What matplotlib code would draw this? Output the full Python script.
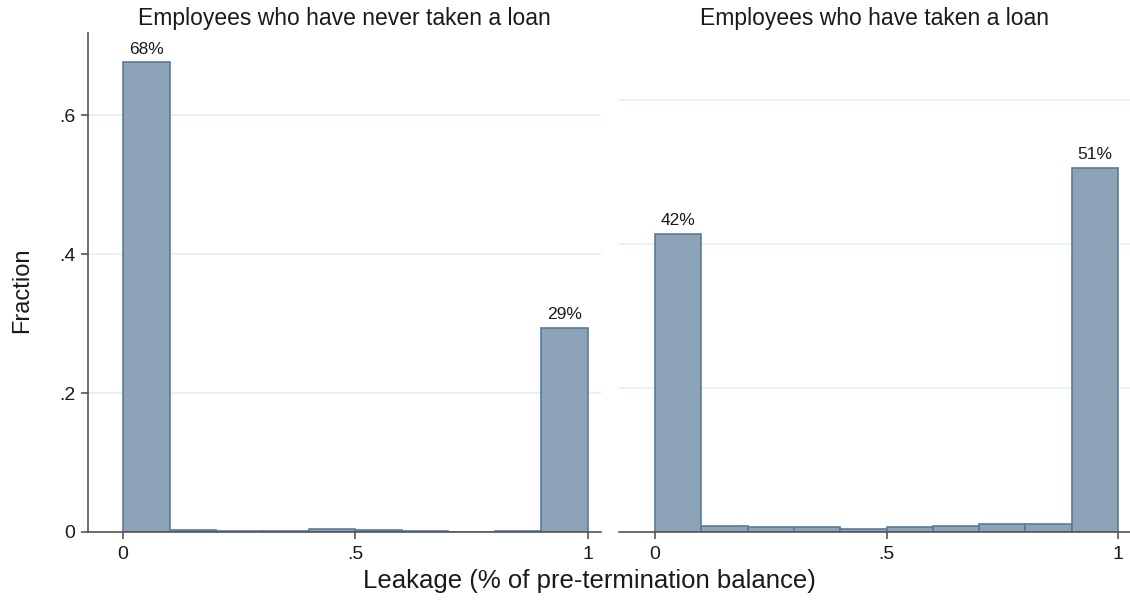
import matplotlib.pyplot as plt
import numpy as np

plt.rcParams['font.family'] = ['Liberation Sans', 'DejaVu Sans']

# Histogram fractions, 10 bins of width .1 over [0, 1]
bin_edges = [0.0, 0.1, 0.2, 0.3, 0.4, 0.5, 0.6, 0.7, 0.8, 0.9, 1.0]
never_loan = [0.676, 0.003, 0.002, 0.001, 0.005, 0.003, 0.0015, 0.0005, 0.0015, 0.2935]
took_loan = [0.414, 0.0078, 0.0065, 0.0065, 0.004, 0.0075, 0.0078, 0.011, 0.0106, 0.506]

# percent labels shown above the end bins
never_labels = {0: "68%", 9: "29%"}
took_labels = {0: "42%", 9: "51%"}

titles = ["Employees who have never taken a loan", "Employees who have taken a loan"]
xticks = [0, 0.5, 1]
xticklabels = ["0", ".5", "1"]
yticks = [0, 0.2, 0.4, 0.6]
yticklabels = ["0", ".2", ".4", ".6"]

FILL = "#8da3b7"
EDGE = "#5a7b9c"
AXIS = "#555555"
GRID = "#e8f0f2"
TEXT = "#1a1a1a"

W, H = 1130, 601
fig = plt.figure(figsize=(W / 100, H / 100), dpi=100)
fig.patch.set_facecolor("white")


def px_axes(x0, x1, y0, y1):
    # pixel box -> figure fraction
    return fig.add_axes([x0 / W, 1 - y1 / H, (x1 - x0) / W, (y1 - y0) / H])


ax1 = px_axes(88, 601, 33, 532)
ax2 = px_axes(619, 1130, 33, 532)

panels = [
    (ax1, never_loan, never_labels, (-0.0753, 1.028), 0.718, True),
    (ax2, took_loan, took_labels, (-0.078, 1.026), 0.693, False),
]

for ax, heights, labels, xlim, ytop, show_y in panels:
    ax.set_facecolor("white")
    for g in yticks[1:]:
        ax.axhline(g, color=GRID, lw=1.3, zorder=0)
    ax.bar(bin_edges[:-1], heights, width=0.1, align="edge",
           color=FILL, edgecolor=EDGE, linewidth=1.2, zorder=2)
    for i, lab in labels.items():
        ax.annotate(lab, (bin_edges[i] + 0.05, heights[i]), xytext=(0, 4),
                    textcoords="offset points", ha="center", va="bottom",
                    fontsize=12.5, color=TEXT)
    ax.set_xlim(*xlim)
    ax.set_ylim(0, ytop)
    ax.set_xticks(xticks)
    ax.set_xticklabels(xticklabels, fontsize=14, color=TEXT)
    ax.spines["top"].set_visible(False)
    ax.spines["right"].set_visible(False)
    ax.spines["bottom"].set_color(AXIS)
    ax.spines["bottom"].set_linewidth(1.2)
    ax.tick_params(axis="x", length=5, width=1.2, color=AXIS, pad=5)
    if show_y:
        ax.spines["left"].set_color(AXIS)
        ax.spines["left"].set_linewidth(1.2)
        ax.set_yticks(yticks)
        ax.set_yticklabels(yticklabels, fontsize=14, color=TEXT)
        ax.tick_params(axis="y", length=5, width=1.2, color=AXIS, pad=4)
    else:
        ax.spines["left"].set_visible(False)
        ax.set_yticks([])

fig.text(344 / W, 1 - 19 / H, titles[0], ha="center", va="center", fontsize=16.5, color=TEXT)
fig.text(875 / W, 1 - 19 / H, titles[1], ha="center", va="center", fontsize=16.5, color=TEXT)
fig.text(589 / W, 1 - 581 / H, "Leakage (% of pre-termination balance)",
         ha="center", va="center", fontsize=18.5, color=TEXT)
fig.text(22 / W, 1 - 290 / H, "Fraction", ha="center", va="center",
         rotation=90, fontsize=17, color=TEXT)

fig.savefig("out.png", dpi=100, facecolor="white")
